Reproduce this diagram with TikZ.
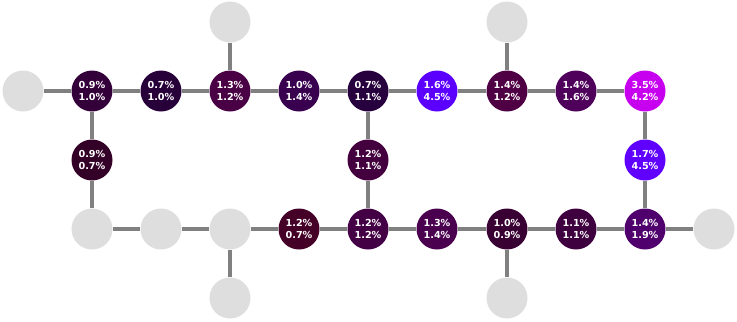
\documentclass[tikz,border=0pt]{standalone}
\usepackage{fontspec}
\setmainfont{DejaVu Sans}
\tikzset{
  blank/.style={circle,fill=black!13,minimum size=41bp,inner sep=0pt},
  val/.style={circle,minimum size=41bp,inner sep=0pt,text=white,align=center,
    font=\fontsize{9.7}{11.3}\selectfont\bfseries},
  link/.style={draw=black!50,line width=3.6bp}
}
\newcommand{\vnode}[4]{%
  \pgfmathtruncatemacro{\rr}{min(255,57*#3)}%
  \pgfmathtruncatemacro{\bb}{min(255,57*#4)}%
  \definecolor{col#1}{RGB}{\rr,0,\bb}%
  \node[val,fill=col#1] (#1) at #2 {#3\%\\#4\%};}
\begin{document}
\begin{tikzpicture}[x=1bp,y=-1bp]
\useasboundingbox (0,0) rectangle (737,321);
\def\xa{23}\def\xb{92}\def\xc{161}\def\xd{230}\def\xe{299}\def\xf{368}
\def\xg{437}\def\xh{507}\def\xi{576}\def\xj{645}\def\xk{714}
% blank nodes
\node[blank] (a2) at (\xa,91) {};
\node[blank] (d1) at (\xd,22) {};
\node[blank] (h1) at (\xh,22) {};
\node[blank] (b4) at (\xb,229) {};
\node[blank] (c4) at (\xc,229) {};
\node[blank] (d4) at (\xd,229) {};
\node[blank] (d5) at (\xd,298) {};
\node[blank] (h5) at (\xh,298) {};
\node[blank] (k4) at (\xk,229) {};
% valued nodes
\vnode{b2}{(\xb,91)}{0.9}{1.0}
\vnode{c2}{(\xc,91)}{0.7}{1.0}
\vnode{d2}{(\xd,91)}{1.3}{1.2}
\vnode{e2}{(\xe,91)}{1.0}{1.4}
\vnode{f2}{(\xf,91)}{0.7}{1.1}
\vnode{g2}{(\xg,91)}{1.6}{4.5}
\vnode{h2}{(\xh,91)}{1.4}{1.2}
\vnode{i2}{(\xi,91)}{1.4}{1.6}
\vnode{j2}{(\xj,91)}{3.5}{4.2}
\vnode{b3}{(\xb,160)}{0.9}{0.7}
\vnode{f3}{(\xf,160)}{1.2}{1.1}
\vnode{j3}{(\xj,160)}{1.7}{4.5}
\vnode{e4}{(\xe,229)}{1.2}{0.7}
\vnode{f4}{(\xf,229)}{1.2}{1.2}
\vnode{g4}{(\xg,229)}{1.3}{1.4}
\vnode{h4}{(\xh,229)}{1.0}{0.9}
\vnode{i4}{(\xi,229)}{1.1}{1.1}
\vnode{j4}{(\xj,229)}{1.4}{1.9}
% links
\foreach \u/\v in {a2/b2,b2/c2,c2/d2,d2/e2,e2/f2,f2/g2,g2/h2,h2/i2,i2/j2,
  d1/d2,h1/h2,b2/b3,b3/b4,f2/f3,f3/f4,j2/j3,j3/j4,
  b4/c4,c4/d4,d4/e4,e4/f4,f4/g4,g4/h4,h4/i4,i4/j4,j4/k4,d4/d5,h4/h5}
  \draw[link] (\u) -- (\v);
\end{tikzpicture}
\end{document}
